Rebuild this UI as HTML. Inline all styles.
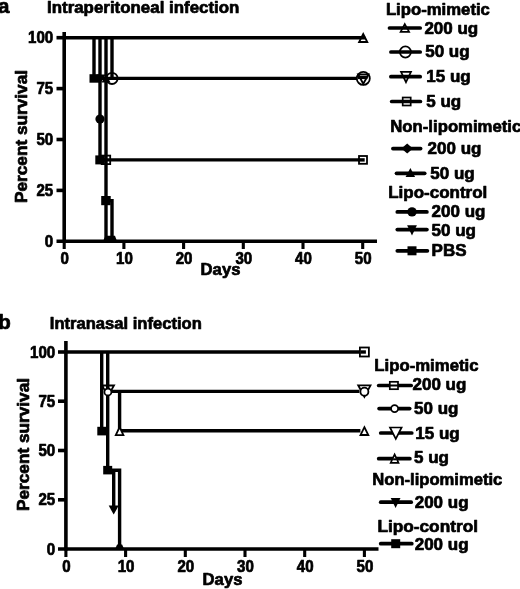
<!DOCTYPE html>
<html><head><meta charset="utf-8"><title>Survival curves</title>
<style>
html,body{margin:0;padding:0;background:#fff;}
svg{display:block;}
text{font-family:"Liberation Sans",Arial,sans-serif;font-weight:bold;fill:#000;stroke:#000;stroke-width:0.7px;stroke-linejoin:round;}
.l{stroke:#000;stroke-width:3.4;fill:none;stroke-linecap:butt;stroke-linejoin:miter;}
.ax{stroke:#000;stroke-width:3.6;fill:none;}
.tk{stroke:#000;stroke-width:3.1;fill:none;}
.om{stroke:#000;stroke-width:1.8;fill:#fff;}
.on{stroke:#000;stroke-width:1.8;fill:none;}
.fm{stroke:none;fill:#000;}
.mo{stroke:#000;stroke-width:1.7;fill:none;}
.mw{stroke:#000;stroke-width:1.7;fill:#fff;}
.th{stroke:#000;stroke-width:2;fill:none;}
.lg{stroke:#000;stroke-width:3.7;fill:none;stroke-linecap:round;}
</style></head><body>
<svg width="520" height="589" viewBox="0 0 520 589">
<rect width="520" height="589" fill="#fff"/>

<!-- panel a -->
<text x="-2.1" y="13.0" font-size="20.5" text-anchor="start">a</text>
<text x="47.0" y="12.8" font-size="17" text-anchor="start" textLength="192.4" lengthAdjust="spacingAndGlyphs">Intraperitoneal infection</text>
<line class="ax" x1="64.2" y1="32.0" x2="64.2" y2="242.9"/>
<line class="ax" x1="56.5" y1="241.3" x2="377.0" y2="241.3"/>
<line class="ax" x1="56.5" y1="190.4" x2="64.2" y2="190.4"/>
<line class="ax" x1="56.5" y1="139.5" x2="64.2" y2="139.5"/>
<line class="ax" x1="56.5" y1="88.6" x2="64.2" y2="88.6"/>
<line class="ax" x1="56.5" y1="37.7" x2="64.2" y2="37.7"/>
<line class="tk" x1="64.2" y1="241.3" x2="64.2" y2="249.0"/>
<line class="tk" x1="123.9" y1="241.3" x2="123.9" y2="249.0"/>
<line class="tk" x1="183.6" y1="241.3" x2="183.6" y2="249.0"/>
<line class="tk" x1="243.3" y1="241.3" x2="243.3" y2="249.0"/>
<line class="tk" x1="303.0" y1="241.3" x2="303.0" y2="249.0"/>
<line class="tk" x1="362.7" y1="241.3" x2="362.7" y2="249.0"/>
<text x="53.2" y="246.9" font-size="16.3" text-anchor="end" textLength="8.4" lengthAdjust="spacingAndGlyphs">0</text>
<text x="53.2" y="196.0" font-size="16.3" text-anchor="end" textLength="16.8" lengthAdjust="spacingAndGlyphs">25</text>
<text x="53.2" y="145.1" font-size="16.3" text-anchor="end" textLength="16.8" lengthAdjust="spacingAndGlyphs">50</text>
<text x="53.2" y="94.20000000000002" font-size="16.3" text-anchor="end" textLength="16.8" lengthAdjust="spacingAndGlyphs">75</text>
<text x="53.2" y="43.30000000000002" font-size="16.3" text-anchor="end" textLength="25.2" lengthAdjust="spacingAndGlyphs">100</text>
<text x="64.7" y="263.9" font-size="16.3" text-anchor="middle" textLength="8.4" lengthAdjust="spacingAndGlyphs">0</text>
<text x="124.4" y="263.9" font-size="16.3" text-anchor="middle" textLength="16.8" lengthAdjust="spacingAndGlyphs">10</text>
<text x="184.1" y="263.9" font-size="16.3" text-anchor="middle" textLength="16.8" lengthAdjust="spacingAndGlyphs">20</text>
<text x="243.8" y="263.9" font-size="16.3" text-anchor="middle" textLength="16.8" lengthAdjust="spacingAndGlyphs">30</text>
<text x="303.5" y="263.9" font-size="16.3" text-anchor="middle" textLength="16.8" lengthAdjust="spacingAndGlyphs">40</text>
<text x="363.2" y="263.9" font-size="16.3" text-anchor="middle" textLength="16.8" lengthAdjust="spacingAndGlyphs">50</text>
<text x="200.6" y="275.4" font-size="17" text-anchor="start" textLength="39.8" lengthAdjust="spacingAndGlyphs">Days</text>
<text transform="translate(27.2,203.0) rotate(-90)" font-size="17" textLength="133" lengthAdjust="spacingAndGlyphs">Percent survival</text>
<path class="l" d="M64.2,37.7 L365.2,37.7"/>
<path class="l" d="M94.0,37.7 L94.0,78.4 L100.0,78.4"/>
<path class="l" d="M100.0,37.7 L100.0,159.9 L106.0,159.9"/>
<path class="l" d="M106.0,37.7 L106.0,241.3"/>
<path class="l" d="M112.0,37.7 L112.0,78.4"/>
<path class="l" d="M100.0,78.4 L357.7,78.4"/>
<path class="l" d="M100.0,159.9 L362.7,159.9"/>
<path class="l" d="M106.0,200.6 L112.0,200.6 L112.0,241.3"/>
<rect class="fm" x="89.5" y="74.2" width="10" height="8.5"/>
<polygon class="fm" points="101.0,82.4 105.5,74.4 96.5,74.4"/>
<polygon class="fm" points="106.0,74.4 110.5,82.4 101.5,82.4"/>
<circle class="on" cx="112.0" cy="78.4" r="5.6"/>
<circle class="fm" cx="100.0" cy="119.1" r="4.6"/>
<rect class="fm" x="95.3" y="155.4" width="9.5" height="9"/>
<rect class="on" x="101.7" y="155.6" width="8.5" height="8.5"/>
<rect class="fm" x="101.2" y="196.0" width="9.5" height="9.2"/>
<polygon class="fm" points="103.0,241.3 105.5,235.8 115.0,235.8 117.0,241.3"/>
<polygon class="on" points="363.2,34.0 367.3,42.0 359.1,42.0"/>
<circle class="om" cx="363.3" cy="78.4" r="6.5"/>
<polygon class="on" points="363.3,83.8 368.6,74.3 358.1,74.3"/>
<line class="l" x1="357.7" y1="77.4" x2="367.5" y2="77.4"/>
<rect class="om" x="359.0" y="156.0" width="8" height="7.8"/>
<line class="l" x1="358.2" y1="159.9" x2="364.7" y2="159.9"/>
<text x="385.9" y="14.8" font-size="17" text-anchor="start" textLength="104" lengthAdjust="spacingAndGlyphs">Lipo-mimetic</text>
<line class="lg" x1="389.5" y1="28.0" x2="420.2" y2="28.0"/>
<polygon class="mo" points="404.8,24.1 409.1,31.9 400.6,31.9"/>
<text x="424.4" y="33.7" font-size="17" text-anchor="start">200 ug</text>
<line class="lg" x1="390.9" y1="52.0" x2="420.2" y2="52.0"/>
<circle class="mo" cx="405.4" cy="52.0" r="5.6"/>
<text x="425.2" y="57.4" font-size="17" text-anchor="start">50 ug</text>
<line class="lg" x1="390.9" y1="76.7" x2="420.2" y2="76.7"/>
<polygon class="mo" points="406.0,82.2 411.0,71.8 401.0,71.8"/>
<text x="426.3" y="82.1" font-size="17" text-anchor="start">15 ug</text>
<line class="lg" x1="391.7" y1="101.5" x2="420.4" y2="101.5"/>
<rect class="mo" x="402.7" y="97.5" width="8" height="8"/>
<text x="426.3" y="107.2" font-size="17" text-anchor="start">5 ug</text>
<text x="390.3" y="132.3" font-size="17" text-anchor="start" textLength="131" lengthAdjust="spacingAndGlyphs">Non-lipomimetic</text>
<line class="lg" x1="392.9" y1="148.6" x2="420.6" y2="148.6"/>
<polygon class="fm" points="407.2,143.6 412.9,148.6 407.2,153.6 401.4,148.6"/>
<text x="427.6" y="154" font-size="17" text-anchor="start">200 ug</text>
<line class="lg" x1="396.5" y1="173.3" x2="424.7" y2="173.3"/>
<polygon class="fm" points="410.4,168.0 415.1,177.0 405.6,177.0"/>
<text x="430.3" y="178.5" font-size="17" text-anchor="start">50 ug</text>
<text x="388.2" y="198.3" font-size="17" text-anchor="start">Lipo-control</text>
<line class="lg" x1="397.3" y1="211.9" x2="426.9" y2="211.9"/>
<circle class="fm" cx="412.0" cy="211.9" r="4.7"/>
<text x="431.6" y="217.3" font-size="17" text-anchor="start">200 ug</text>
<line class="lg" x1="397.3" y1="229.6" x2="426.9" y2="229.6"/>
<polygon class="fm" points="412.0,235.5 416.9,225.3 407.1,225.3"/>
<text x="431.6" y="236.4" font-size="17" text-anchor="start">50 ug</text>
<line class="lg" x1="397.3" y1="250.8" x2="427.4" y2="250.8"/>
<rect class="fm" x="407.5" y="246.3" width="9" height="9"/>
<text x="431.6" y="255.9" font-size="17" text-anchor="start">PBS</text>
<!-- panel b -->
<text x="-1.8" y="328.5" font-size="20.5" text-anchor="start">b</text>
<text x="49.8" y="328.6" font-size="17" text-anchor="start" textLength="152" lengthAdjust="spacingAndGlyphs">Intranasal infection</text>
<line class="ax" x1="65.9" y1="341.0" x2="65.9" y2="550.6"/>
<line class="ax" x1="58.0" y1="549.0" x2="378.5" y2="549.0"/>
<line class="ax" x1="58.0" y1="499.8" x2="65.9" y2="499.8"/>
<line class="ax" x1="58.0" y1="450.5" x2="65.9" y2="450.5"/>
<line class="ax" x1="58.0" y1="401.2" x2="65.9" y2="401.2"/>
<line class="ax" x1="58.0" y1="352.0" x2="65.9" y2="352.0"/>
<line class="tk" x1="65.9" y1="549.0" x2="65.9" y2="557.0"/>
<line class="tk" x1="125.6" y1="549.0" x2="125.6" y2="557.0"/>
<line class="tk" x1="185.3" y1="549.0" x2="185.3" y2="557.0"/>
<line class="tk" x1="245.0" y1="549.0" x2="245.0" y2="557.0"/>
<line class="tk" x1="304.7" y1="549.0" x2="304.7" y2="557.0"/>
<line class="tk" x1="364.4" y1="549.0" x2="364.4" y2="557.0"/>
<text x="55.2" y="554.6" font-size="16.3" text-anchor="end" textLength="8.4" lengthAdjust="spacingAndGlyphs">0</text>
<text x="55.2" y="505.35" font-size="16.3" text-anchor="end" textLength="16.8" lengthAdjust="spacingAndGlyphs">25</text>
<text x="55.2" y="456.1" font-size="16.3" text-anchor="end" textLength="16.8" lengthAdjust="spacingAndGlyphs">50</text>
<text x="55.2" y="406.85" font-size="16.3" text-anchor="end" textLength="16.8" lengthAdjust="spacingAndGlyphs">75</text>
<text x="55.2" y="357.6" font-size="16.3" text-anchor="end" textLength="25.2" lengthAdjust="spacingAndGlyphs">100</text>
<text x="66.4" y="572.1" font-size="16.3" text-anchor="middle" textLength="8.4" lengthAdjust="spacingAndGlyphs">0</text>
<text x="126.1" y="572.1" font-size="16.3" text-anchor="middle" textLength="16.8" lengthAdjust="spacingAndGlyphs">10</text>
<text x="185.8" y="572.1" font-size="16.3" text-anchor="middle" textLength="16.8" lengthAdjust="spacingAndGlyphs">20</text>
<text x="245.5" y="572.1" font-size="16.3" text-anchor="middle" textLength="16.8" lengthAdjust="spacingAndGlyphs">30</text>
<text x="305.2" y="572.1" font-size="16.3" text-anchor="middle" textLength="16.8" lengthAdjust="spacingAndGlyphs">40</text>
<text x="364.9" y="572.1" font-size="16.3" text-anchor="middle" textLength="16.8" lengthAdjust="spacingAndGlyphs">50</text>
<text x="202.6" y="585.4" font-size="17" text-anchor="start" textLength="39.8" lengthAdjust="spacingAndGlyphs">Days</text>
<text transform="translate(29.3,511.0) rotate(-90)" font-size="17" textLength="133" lengthAdjust="spacingAndGlyphs">Percent survival</text>
<path class="l" d="M65.9,352.0 L360.4,352.0"/>
<path class="l" d="M101.7,352.0 L101.7,430.8"/>
<path class="l" d="M107.7,352.0 L107.7,470.2 L119.6,470.2 L119.6,549.0"/>
<path class="l" d="M107.7,391.4 L359.4,391.4"/>
<path class="l" d="M119.6,391.4 L119.6,430.8 L360.4,430.8"/>
<path class="l" d="M113.7,470.2 L113.7,509.6"/>
<polygon class="on" points="108.0,396.0 114.0,385.5 102.0,385.5"/>
<circle class="om" cx="107.9" cy="392.0" r="3.5"/>
<rect class="fm" x="97.3" y="426.8" width="9.5" height="8.6"/>
<polygon class="om" points="119.6,427.1 123.4,435.1 115.8,435.1"/>
<rect class="fm" x="103.2" y="465.9" width="9" height="8.5"/>
<polygon class="fm" points="113.7,514.6 118.7,505.6 108.7,505.6"/>
<polygon class="fm" points="115.1,549.0 117.1,544.5 122.1,544.5 124.1,549.0"/>
<rect class="om" x="359.9" y="347.5" width="9" height="9"/>
<line class="l" x1="360.4" y1="352.0" x2="365.9" y2="352.0"/>
<polygon class="om" points="364.4,396.8 370.5,385.3 358.2,385.3"/>
<circle class="om" cx="364.4" cy="391.7" r="4"/>
<polygon class="om" points="364.4,427.2 368.3,435.0 360.5,435.0"/>
<text x="374.3" y="370.8" font-size="17" text-anchor="start" textLength="104.2" lengthAdjust="spacingAndGlyphs">Lipo-mimetic</text>
<line class="lg" x1="378.7" y1="385.5" x2="411.2" y2="385.5"/>
<rect class="mw" x="389.8" y="381.8" width="8.2" height="7.4"/>
<line class="th" x1="389.9" y1="385.5" x2="397.9" y2="385.5"/>
<text x="412.5" y="390.4" font-size="17" text-anchor="start">200 ug</text>
<line class="lg" x1="379.1" y1="408.6" x2="409.7" y2="408.6"/>
<circle class="mw" cx="394.6" cy="408.6" r="3.5"/>
<text x="414.0" y="413.5" font-size="17" text-anchor="start">50 ug</text>
<line class="lg" x1="380.7" y1="433.0" x2="411.8" y2="433.0"/>
<polygon class="mw" points="395.8,438.8 401.6,427.5 390.0,427.5"/>
<text x="415.3" y="438.8" font-size="17" text-anchor="start">15 ug</text>
<line class="lg" x1="378.7" y1="458.7" x2="409.9" y2="458.7"/>
<polygon class="mw" points="394.6,454.4 398.5,462.8 390.7,462.8"/>
<line class="th" x1="393.1" y1="459.3" x2="396.1" y2="459.3"/>
<text x="414.0" y="463" font-size="17" text-anchor="start">5 ug</text>
<text x="372.3" y="484.5" font-size="17" text-anchor="start" textLength="130" lengthAdjust="spacingAndGlyphs">Non-lipomimetic</text>
<line class="lg" x1="380.7" y1="502.2" x2="411.2" y2="502.2"/>
<polygon class="fm" points="395.6,508.1 400.5,497.9 390.7,497.9"/>
<text x="414.7" y="507.6" font-size="17" text-anchor="start">200 ug</text>
<text x="377.4" y="531.8" font-size="17" text-anchor="start" textLength="100.6" lengthAdjust="spacingAndGlyphs">Lipo-control</text>
<line class="lg" x1="380.7" y1="543.7" x2="411.8" y2="543.7"/>
<rect class="fm" x="391.2" y="539.2" width="9" height="9"/>
<text x="414.7" y="550.0" font-size="17" text-anchor="start">200 ug</text>
</svg>
</body></html>
